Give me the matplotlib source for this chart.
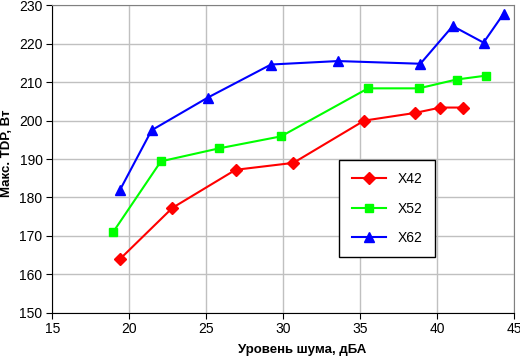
import matplotlib
matplotlib.use("Agg")
from matplotlib import pyplot as plt

plt.rcParams["font.family"] = ["Liberation Sans", "DejaVu Sans"]

# noise level, dBA  /  max TDP, W
x42_noise = [19.4, 22.8, 26.9, 30.65, 35.25, 38.55, 40.2, 41.65]
x42_tdp = [164, 177.3, 187.2, 189, 200, 202, 203.4, 203.4]

x52_noise = [18.95, 22.05, 25.85, 29.85, 35.5, 38.8, 41.25, 43.15]
x52_tdp = [171, 189.4, 192.8, 195.9, 208.4, 208.4, 210.7, 211.7]

x62_noise = [19.4, 21.45, 25.1, 29.2, 33.55, 38.9, 41.0, 43.0, 44.3]
x62_tdp = [182, 197.5, 206, 214.6, 215.5, 214.8, 224.6, 220.3, 227.8]

x_ticks = [15, 20, 25, 30, 35, 40, 45]
y_ticks = [150, 160, 170, 180, 190, 200, 210, 220, 230]


def draw_plot():
    fig = plt.figure(figsize=(5.2, 3.56), dpi=100)
    ax = fig.add_axes([0.1006, 0.1215, 0.8885, 0.8635])

    ax.plot(x42_noise, x42_tdp, color="#ff0000", marker="D", markersize=6,
            linewidth=1.5, label="X42", zorder=3)
    ax.plot(x52_noise, x52_tdp, color="#00ff00", marker="s", markersize=6,
            linewidth=1.5, label="X52", zorder=3)
    ax.plot(x62_noise, x62_tdp, color="#0000ff", marker="^", markersize=7,
            linewidth=1.5, label="X62", zorder=3)

    ax.set_xlim(15, 45)
    ax.set_ylim(150, 230)
    ax.set_xticks(x_ticks)
    ax.set_yticks(y_ticks)
    ax.grid(True, color="#c0c0c0", linewidth=1)
    ax.set_axisbelow(True)

    for side in ("top", "right"):
        ax.spines[side].set_color("#808080")
    for side in ("left", "bottom"):
        ax.spines[side].set_color("black")
    ax.tick_params(direction="out", length=4, labelsize=10, pad=3)

    ax.set_xlabel("Уровень шума, дБА", fontsize=9.5, fontweight="bold")
    ax.xaxis.label.set_verticalalignment("center")
    ax.xaxis.set_label_coords(0.54, -0.12)
    ax.set_ylabel("Макс. TDP, Вт", fontsize=9.5, fontweight="bold")
    ax.yaxis.label.set_verticalalignment("center")
    ax.yaxis.set_label_coords(-0.098, 0.52)

    leg = ax.legend(loc="lower left", bbox_to_anchor=(0.621, 0.18, 0.208, 0.287),
                    mode="expand", fancybox=False, edgecolor="black",
                    framealpha=1, fontsize=10, handlelength=2.5,
                    labelspacing=1.1, borderpad=0.9, borderaxespad=0)
    leg.get_frame().set_linewidth(1)

    fig.savefig("out.png")


if __name__ == "__main__":
    draw_plot()
